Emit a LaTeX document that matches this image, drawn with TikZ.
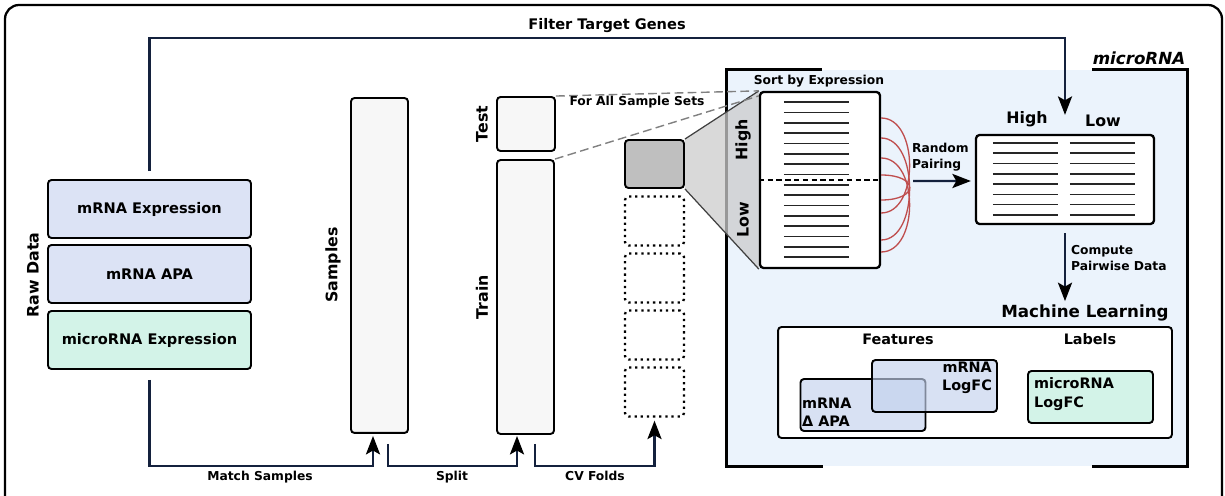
\documentclass[tikz,border=0pt]{standalone}
\usepackage{fontspec}
\setmainfont{DejaVu Sans}
\usetikzlibrary{arrows.meta, positioning, calc}
\definecolor{navy}{HTML}{14213D}
\definecolor{lav}{HTML}{DCE3F5}
\definecolor{lav2}{HTML}{C4D2EE}
\definecolor{mint}{HTML}{D3F3E8}
\definecolor{paper}{HTML}{F7F7F7}
\definecolor{fog}{HTML}{EBF3FC}
\definecolor{rust}{HTML}{B83A3A}
\pgfdeclarelayer{back}
\pgfsetlayers{back,main}

\begin{document}
\begin{tikzpicture}[
    x=0.02cm, y=-0.02cm,
    every node/.style={font=\bfseries},
    lab/.style={font=\fontsize{7}{9}\selectfont\bfseries, inner sep=1pt},
    tag/.style={font=\fontsize{9}{11}\selectfont\bfseries, inner sep=1pt},
    txt/.style={font=\fontsize{8.2}{10.5}\selectfont\bfseries, inner sep=1pt, align=left},
    box/.style={draw, line width=1.1pt, rounded corners=2pt, minimum width=4.06cm,
        minimum height=1.16cm, font=\fontsize{8.3}{10}\selectfont\bfseries},
    bar/.style={draw, line width=1.1pt, rounded corners=2pt, fill=paper, minimum width=1.14cm},
    fold/.style={draw, line width=1.1pt, rounded corners=2pt, minimum width=1.18cm, minimum height=0.98cm},
    sheet/.style={draw, fill=white, line width=1.3pt, rounded corners=2pt},
    chip/.style={draw, line width=1.1pt, rounded corners=2pt, minimum width=2.5cm, minimum height=1.04cm},
    gene/.style={line width=0.9pt, draw=black!85},
    tie/.style={draw=rust!90, line width=0.75pt},
    hint/.style={draw=gray, line width=0.8pt, dash pattern=on 5pt off 2.5pt},
    flow/.style={draw=navy, line width=1.4pt,
        -{Stealth[length=10.5pt, width=8pt, inset=2.2pt, color=black]}},
]

\path[use as bounding box] (0,0) rectangle (1225,496);
\clip (0,0) rectangle (1225,496);
\draw[line width=1.3pt, rounded corners=8pt] (5,5) rectangle (1222,540);

% raw data
\node[box, fill=lav] (mrna) at (149.5,209) {mRNA Expression};
\node[box, fill=lav] (apa) at (149.5,274) {mRNA APA};
\node[box, fill=mint] (micro) at (149.5,340) {microRNA Expression};
\node[tag, rotate=90] (rawlab) at (33,275) {Raw Data};

% samples, test / train split, folds
\node[bar, minimum height=6.7cm] (samples) at (379.5,265.5) {};
\node[tag, rotate=90] (samplab) at (333,265) {Samples};
\node[bar, minimum width=1.16cm, minimum height=1.08cm] (test) at (526,124) {};
\node[bar, minimum height=5.48cm] (train) at (525.5,297) {};
\node[tag, rotate=90] (testlab) at (482,124) {Test};
\node[tag, rotate=90] (trainlab) at (482,297) {Train};

\node[fold, fill=black!25, minimum height=0.96cm] (fold1) at (654.5,164) {};
\foreach \i in {2,...,5}
    \node[fold, line width=1.3pt, dash pattern=on 1.3pt off 2.2pt] (fold\i) at (654.5,{164+57*(\i-1)}) {};

% sorted by expression
\node[sheet, minimum width=2.4cm, minimum height=3.52cm] (sorted) at (820,180) {};
\node[lab] (sortlab) at (819,81) {Sort by Expression};
\node[tag, rotate=90] (highlab) at (743,140) {High};
\node[tag, rotate=90] (lowlab) at (743,220) {Low};
\foreach \i in {0,...,15}
    \draw[gene] ($(sorted.north west)+(25,{11.3+10.33*\i})$) -- ++(65,0);
\draw[line width=0.8pt, dash pattern=on 3pt off 2pt] (sorted.west) -- (sorted.east);
\foreach \a/\b in {-62/33, -42/60, -22/72, -5/20}
    \draw[tie] ($(sorted.east)+(0,\a)$) .. controls ($(sorted.east)+(38,\a)$)
        and ($(sorted.east)+(38,\b)$) .. ($(sorted.east)+(0,\b)$);

% paired table
\node[sheet, minimum width=3.56cm, minimum height=1.78cm] (pair) at (1065,179.5) {};
\foreach \i in {0,...,7}{
    \draw[gene] ($(pair.north west)+(18,{9+10.3*\i})$) -- ++(65,0);
    \draw[gene] ($(pair.north west)+(95,{9+10.3*\i})$) -- ++(65,0);
}
\node[tag] (phigh) at (1027,119) {High};
\node[tag] (plow) at (1103,121) {Low};
\node[lab, anchor=west, align=left] (rplab) at (910,157) {Random\\Pairing};
\node[lab, anchor=west, align=left] (cplab) at (1069,258) {Compute\\Pairwise Data};

% machine learning
\node[tag, font=\fontsize{9.5}{11}\selectfont\bfseries] (mlt) at (1085,313) {Machine Learning};
\node[sheet, line width=1.1pt, minimum width=7.88cm, minimum height=2.22cm] (ml) at (975,382.5) {};
\node[txt] (featlab) at (898,339) {Features};
\node[txt] (lablab) at (1090,339) {Labels};
\node[chip, fill=lav2, fill opacity=0.65] (apabox) at (863,405) {};
\node[chip, fill=lav2, fill opacity=0.65] (fcbox) at (934.5,386) {};
\node[chip, fill=mint] (mirfc) at (1090.5,397) {};
\node[txt, anchor=west] (apatxt) at (800,412) {mRNA\\Δ APA};
\node[txt, anchor=east, align=right] (fctxt) at (994,378) {mRNA\\LogFC};
\node[txt, anchor=west] (mirtxt) at (1032,394) {microRNA\\LogFC};

% connectors
\coordinate (ftop) at (607,38);
\node[lab, font=\fontsize{8.3}{9}\selectfont\bfseries] (ftlab) at (607,26) {Filter Target Genes};
\draw[flow] ($(mrna.north)+(0,-8)$) |- (ftop) -| ($(pair.north)+(0,-19)$);

\coordinate (msc) at (260,466);
\draw[flow] ($(micro.south)+(0,10)$) |- (msc) -| ($(samples.south)+(-6.5,2)$);
\node[lab] (mslab) at (260,477) {Match Samples};

\coordinate (spc) at (452,466);
\draw[flow] ($(samples.south)+(8.5,10)$) |- (spc) -| ($(train.south)+(-8.5,1)$);
\node[lab] (splab) at (452,477) {Split};

\coordinate (cvc) at (595,466);
\draw[flow] ($(train.south)+(9.5,9)$) |- (cvc) -| ($(fold5.south)+(0,3)$);
\node[lab] (cvlab) at (595,476) {CV Folds};

\draw[flow] ($(sorted.east)+(32,1)$) -- ($(pair.west)+(-4,1.5)$);
\draw[flow] ($(pair.south)+(0,8)$) -- ($(pair.south)+(0,76)$);

\draw[hint] (test.north east) -- (sorted.north west);
\draw[hint] (train.north east) -- ($(sorted.north west)+(0,5)$);
\node[lab] (alllab) at (637,102) {For All Sample Sets};

% microRNA region, behind everything
\begin{pgfonlayer}{back}
    \node[fill=fog, minimum width=9.2cm, minimum height=7.92cm, inner sep=0pt] (mir) at (957,268) {};
    \draw[line width=1.5pt] ($(mir.north west)+(95,0)$) -- (mir.north west) -- (mir.south west) -- ++(96,0);
    \draw[line width=1.5pt] ($(mir.north east)+(-95,0)$) -- (mir.north east) -- (mir.south east) -- ++(-95,0);
    \fill[black!20, opacity=0.75] (fold1.north east) -- (sorted.north west)
        -- (sorted.south west) -- (fold1.south east) -- cycle;
    \draw[black!75, line width=0.7pt] (fold1.north east) -- (sorted.north west)
        (fold1.south east) -- (sorted.south west);
\end{pgfonlayer}
\node[font=\fontsize{9.5}{11}\selectfont\bfseries\itshape, anchor=south east, inner sep=1pt]
    (mirlab) at ($(mir.north east)+(0,-3)$) {microRNA};

\end{tikzpicture}
\end{document}
